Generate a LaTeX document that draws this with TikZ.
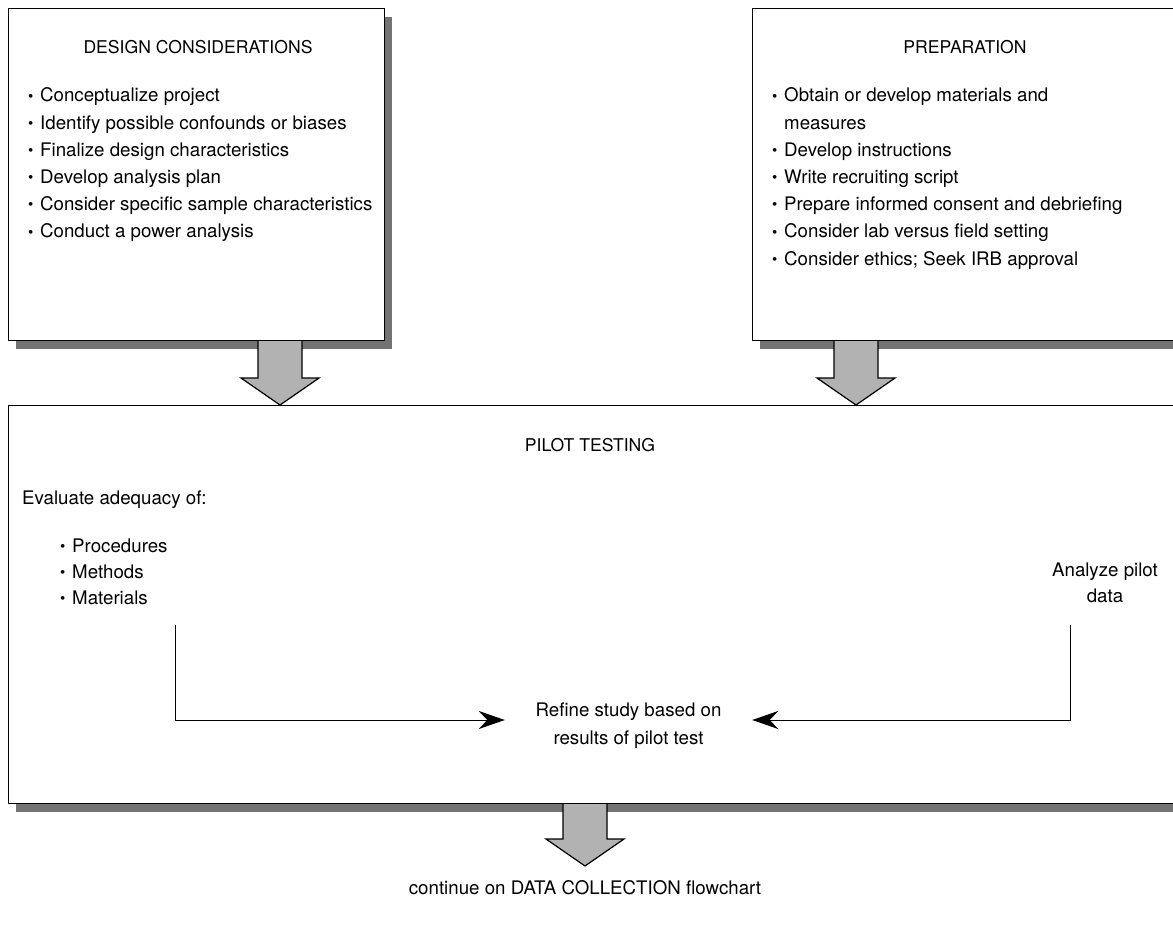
\documentclass[tikz,border=0pt]{standalone}
\usepackage{fontspec}
\setmainfont{TeX Gyre Heros}
\usepackage{graphicx}
\usetikzlibrary{arrows.meta,shadows}
\newcommand{\bul}{\makebox[12pt][l]{\raisebox{0.1ex}{\scalebox{0.8}{\textbullet}}}}
% hollow block arrow from top point #1 down to tip #2
\newcommand{\blockarrow}[2]{%
    \draw[bigarrow] ([xshift=-22pt]#1) -- ([xshift=-22pt,yshift=27pt]#2) -- ([xshift=-39pt,yshift=27pt]#2)
        -- (#2) -- ([xshift=39pt,yshift=27pt]#2) -- ([xshift=22pt,yshift=27pt]#2) -- ([xshift=22pt]#1);%
}

\begin{document}
\begin{tikzpicture}[x=1pt,y=-1pt,
every node/.style={inner sep=0pt,font=\fontsize{18.7}{26}\selectfont},
box/.style={draw=black,line width=1.2pt,fill=white,anchor=north west,
    general shadow={fill=black!55,shadow xshift=7pt,shadow yshift=-8pt}},
title/.style={font=\fontsize{17.6}{20}\selectfont},
item/.style={anchor=base west},
bigarrow/.style={draw=black,line width=1.2pt,fill=black!30,line join=miter},
flow/.style={line width=1pt,-{Stealth[length=26pt,width=18pt]}}]
\useasboundingbox (0,0) rectangle (1173,928);
\clip (0,0) rectangle (1173,928);
\def\lsep{27.2}

%boxes
\node[box,minimum width=376pt,minimum height=332pt] (design) at (8,8) {};
\node[box,minimum width=440pt,minimum height=332pt] (prep) at (752,8) {};
\node[box,minimum width=1180pt,minimum height=398pt] (pilot) at (8,405) {};

%design considerations
\node[title] (designT) at (198,47) {DESIGN CONSIDERATIONS};
\foreach \txt [count=\i] in {Conceptualize project,Identify possible confounds or biases,
    Finalize design characteristics,Develop analysis plan,
    Consider specific sample characteristics,Conduct a power analysis}
    \node[item] (d\i) at (28,{102+\lsep*(\i-1)}) {\bul\txt};

%preparation
\node[title] (prepT) at (965,47) {PREPARATION};
\node[item] (p1) at (772,102) {\bul Obtain or develop materials and};
\node[item] (p1b) at (784,{102+\lsep}) {measures};
\foreach \txt [count=\i from 2] in {Develop instructions,Write recruiting script,
    Prepare informed consent and debriefing,Consider lab versus field setting,
    Consider ethics; Seek IRB approval}
    \node[item] (p\i) at (772,{102+\lsep*\i}) {\bul\txt};

%pilot testing
\node[title] (pilotT) at (590,445) {PILOT TESTING};
\node[item] (eval) at (22,504) {Evaluate adequacy of:};
\foreach \txt [count=\i] in {Procedures,Methods,Materials}
    \node[item] (e\i) at (60,{552+26*(\i-1)}) {\bul\txt};
\node[align=center] (analyze) at (1105,583) {Analyze pilot\\data};
\node[align=center,minimum width=247pt,font=\fontsize{18.7}{28}\selectfont] (refine) at (628.5,726) {Refine study based on\\results of pilot test};
\coordinate (matEnd) at (175,625);
\coordinate (anaEnd) at (1070,625);
\draw[flow] (matEnd) |- ([yshift=6pt]refine.west);
\draw[flow] (anaEnd) |- ([yshift=6pt]refine.east);

%caption
\node (cont) at (585,888) {continue on DATA COLLECTION flowchart};

%block arrows
\coordinate (a1) at (280,0);
\coordinate (a2) at (856,0);
\coordinate (a3) at (585,0);
\coordinate (a3tip) at (585,866);
\blockarrow{a1 |- design.south}{a1 |- pilot.north}
\blockarrow{a2 |- prep.south}{a2 |- pilot.north}
\blockarrow{a3 |- pilot.south}{a3tip}
\end{tikzpicture}
\end{document}
